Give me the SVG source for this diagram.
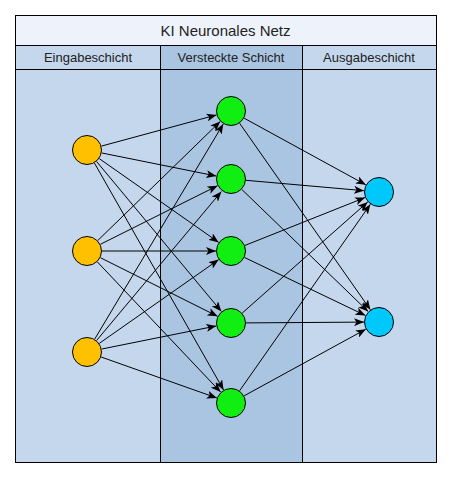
<svg xmlns="http://www.w3.org/2000/svg" width="451" height="477" viewBox="0 0 451 477">
<style>
.lane{stroke:#000;stroke-width:1}
.t{font-family:"Liberation Sans",Arial,sans-serif;fill:#222;text-anchor:middle}
.e line{stroke:#000;stroke-width:1;marker-end:url(#ah)}
.n{stroke:#000;stroke-width:1}
.in{fill:#FFC000}
.hid{fill:#11EE11}
.out{fill:#00C8FA}
</style>
<defs>
<marker id="ah" markerUnits="userSpaceOnUse" viewBox="0 0 10 8" refX="10" refY="4" markerWidth="10" markerHeight="8" orient="auto">
<path d="M0,0 L10,4 L0,8 L2.5,4 z" fill="#000"/>
</marker>
</defs>
<rect width="451" height="477" fill="#fff"/>
<g id="pool">
<rect x="15.5" y="15.5" width="421" height="30" fill="#EEF3FB" class="lane"/>
<rect x="15.5" y="45.5" width="145" height="417" fill="#C5D7EC" class="lane"/>
<rect x="160.5" y="45.5" width="142" height="417" fill="#AAC5E1" class="lane"/>
<rect x="302.5" y="45.5" width="134" height="417" fill="#C5D7EC" class="lane"/>
<line x1="15.5" y1="69.5" x2="436.5" y2="69.5" class="lane"/>
<text class="t" x="225.5" y="36" font-size="15">KI Neuronales Netz</text>
<text class="t" x="88" y="62" font-size="13">Eingabeschicht</text>
<text class="t" x="231" y="62" font-size="13">Versteckte Schicht</text>
<text class="t" x="369" y="62" font-size="13">Ausgabeschicht</text>
</g>
<g id="connectors" class="e">
<line x1="101.48" y1="146.08" x2="216.52" y2="114.92"/>
<line x1="101.70" y1="152.96" x2="216.30" y2="176.04"/>
<line x1="99.28" y1="158.61" x2="218.72" y2="242.39"/>
<line x1="96.60" y1="161.53" x2="221.40" y2="311.47"/>
<line x1="94.42" y1="163.04" x2="223.58" y2="389.96"/>
<line x1="97.75" y1="240.54" x2="220.25" y2="121.46"/>
<line x1="100.42" y1="244.29" x2="217.58" y2="185.71"/>
<line x1="102" y1="251" x2="216" y2="251"/>
<line x1="100.42" y1="257.71" x2="217.58" y2="316.29"/>
<line x1="97.32" y1="261.89" x2="220.68" y2="392.11"/>
<line x1="94.69" y1="339.12" x2="223.31" y2="123.88"/>
<line x1="96.60" y1="340.47" x2="221.40" y2="191.53"/>
<line x1="99.28" y1="343.39" x2="218.72" y2="259.61"/>
<line x1="101.70" y1="349.04" x2="216.30" y2="325.96"/>
<line x1="101.14" y1="357.01" x2="216.86" y2="397.99"/>
<line x1="244.16" y1="118.20" x2="365.84" y2="184.80"/>
<line x1="239.61" y1="123.28" x2="370.39" y2="309.72"/>
<line x1="245.94" y1="180.31" x2="364.06" y2="190.69"/>
<line x1="241.79" y1="189.42" x2="368.21" y2="311.58"/>
<line x1="244.93" y1="245.45" x2="365.07" y2="197.55"/>
<line x1="244.52" y1="257.49" x2="365.48" y2="315.51"/>
<line x1="242.23" y1="313.06" x2="367.77" y2="201.94"/>
<line x1="246" y1="322.9" x2="364" y2="322.1"/>
<line x1="239.61" y1="390.72" x2="370.39" y2="204.28"/>
<line x1="244.16" y1="395.80" x2="365.84" y2="329.20"/>
</g>
<g id="i1"><circle class="n in" cx="87" cy="150" r="14.5"/></g>
<g id="i2"><circle class="n in" cx="87" cy="251" r="14.5"/></g>
<g id="i3"><circle class="n in" cx="87" cy="352" r="14.5"/></g>
<g id="h1"><circle class="n hid" cx="231" cy="111" r="14.5"/></g>
<g id="h2"><circle class="n hid" cx="231" cy="179" r="14.5"/></g>
<g id="h3"><circle class="n hid" cx="231" cy="251" r="14.5"/></g>
<g id="h4"><circle class="n hid" cx="231" cy="323" r="14.5"/></g>
<g id="h5"><circle class="n hid" cx="231" cy="403" r="14.5"/></g>
<g id="o1"><circle class="n out" cx="379" cy="192" r="14.5"/></g>
<g id="o2"><circle class="n out" cx="379" cy="322" r="14.5"/></g>
</svg>
